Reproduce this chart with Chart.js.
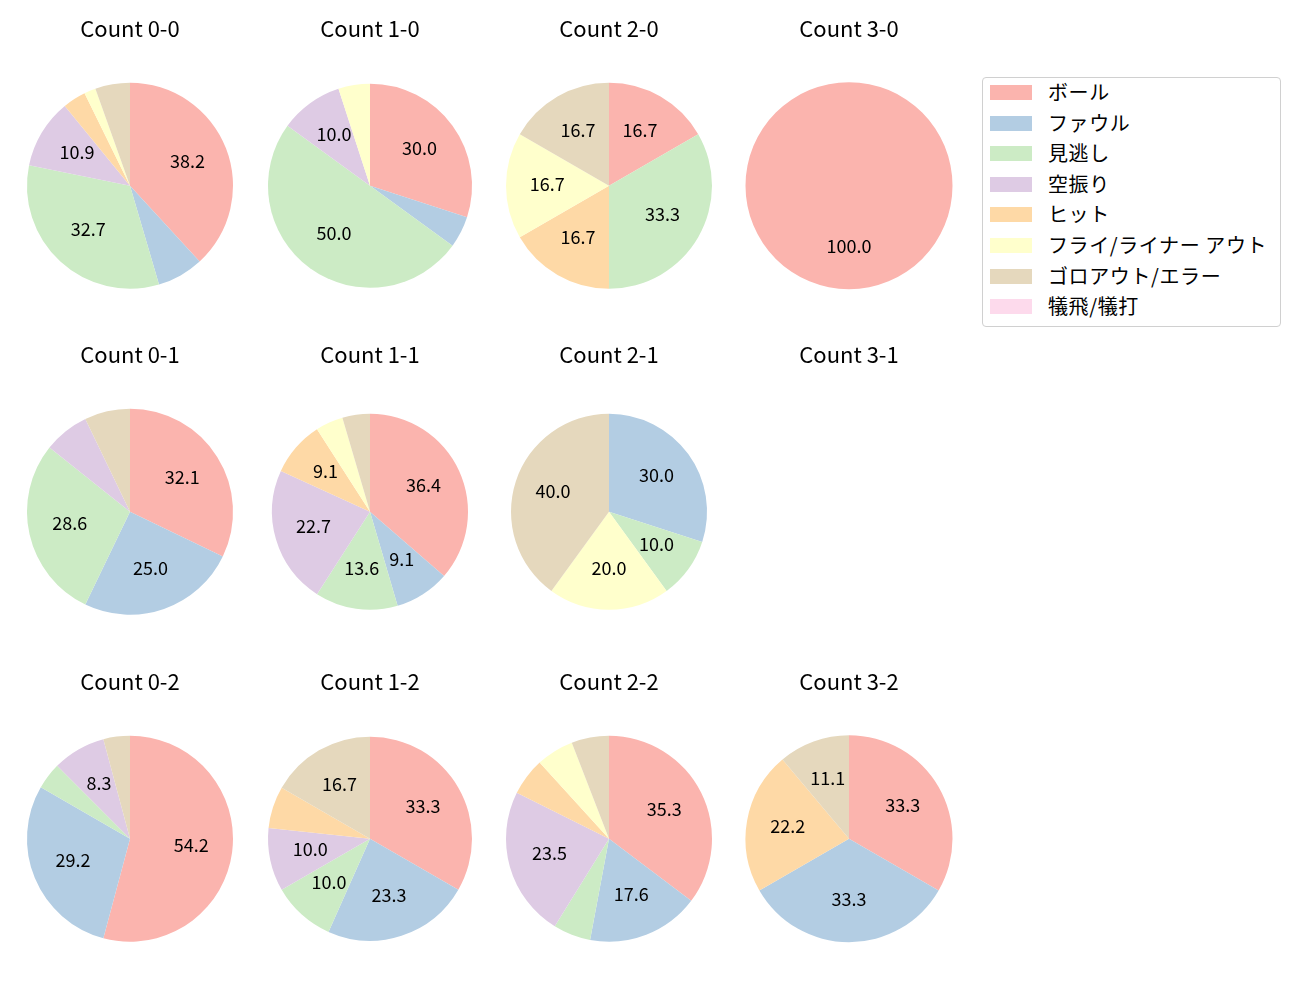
<!DOCTYPE html>
<html><head><meta charset="utf-8">
<script src="https://cdn.jsdelivr.net/npm/chart.js@4/dist/chart.umd.min.js"></script>
<style>
body{margin:0;background:#fff;width:1300px;height:1000px;position:relative;overflow:hidden;font-family:"Noto Sans CJK JP",sans-serif;}
canvas{position:absolute}
#legend{position:absolute;left:982px;top:77px;width:299px;height:250px;border:1px solid #d0d0d0;border-radius:4px;box-sizing:border-box;}
.lrow{position:absolute;left:0;height:30px;width:100%}
.sw{position:absolute;left:7px;width:42px;height:15px;}
.lt{position:absolute;left:65px;font-size:20px;line-height:30px;color:#000;white-space:nowrap;letter-spacing:0.6px}
</style></head><body>
<div id="legend"></div>
<script>
const categories = ['ボール','ファウル','見逃し','空振り','ヒット','フライ/ライナー アウト','ゴロアウト/エラー','犠飛/犠打'];
const colors = ['#fbb4ae','#b3cde3','#ccebc5','#decbe4','#fed9a6','#ffffcc','#e5d8bd','#fddaec'];
// counts per category (same order as categories)
const count00 = [21,4,18,6,2,1,3,0];
const count10 = [6,1,10,2,0,1,0,0];
const count20 = [1,0,2,0,1,1,1,0];
const count30 = [1,0,0,0,0,0,0,0];
const count01 = [9,7,8,2,0,0,2,0];
const count11 = [8,2,3,5,2,1,1,0];
const count21 = [0,3,1,0,0,2,4,0];
const count31 = [0,0,0,0,0,0,0,0];
const count02 = [13,7,1,2,0,0,1,0];
const count12 = [10,7,3,3,2,0,5,0];
const count22 = [6,3,1,4,1,1,1,0];
const count32 = [3,3,0,0,2,0,1,0];
const panelTitles = ['Count 0-0','Count 1-0','Count 2-0','Count 3-0','Count 0-1','Count 1-1','Count 2-1','Count 3-1','Count 0-2','Count 1-2','Count 2-2','Count 3-2'];
const panelData = [count00,count10,count20,count30,count01,count11,count21,count31,count02,count12,count22,count32];

// layout
const colCenters = [129.5, 369.5, 609, 849];
const rowCenters = [185.5, 512, 838.5];
const radii = [103,102,103,103.5, 103,98,98,103, 103,102,103,103.5];

const pctLabels = {
  id:'pctLabels',
  afterDatasetsDraw(chart){
    const ctx = chart.ctx;
    const meta = chart.getDatasetMeta(0);
    const data = chart.data.datasets[0].data;
    const total = data.reduce((a,b)=>a+b,0);
    if(!total) return;
    ctx.save();
    ctx.font = '18px "Noto Sans CJK JP"';
    ctx.fillStyle = '#000';
    ctx.textAlign = 'center';
    ctx.textBaseline = 'middle';
    meta.data.forEach((arc,i)=>{
      const pct = data[i]/total*100;
      if(pct < 8) return;
      const p = arc.getProps(['x','y','startAngle','endAngle','outerRadius'], true);
      const mid = (p.startAngle+p.endAngle)/2;
      const r = p.outerRadius*0.6;
      ctx.fillText(pct.toFixed(1), p.x+Math.cos(mid)*r, p.y+Math.sin(mid)*r - 2);
    });
    ctx.restore();
  }
};

const W = 240, H = 295;
panelData.forEach((d,k)=>{
  const col = k%4, row = Math.floor(k/4);
  const cv = document.createElement('canvas');
  cv.width = W; cv.height = H;
  cv.style.left = (colCenters[col]-W/2)+'px';
  cv.style.top = (rowCenters[row]-170.7)+'px';
  document.body.appendChild(cv);
  new Chart(cv, {
    type:'pie',
    data:{labels:categories, datasets:[{data:d, backgroundColor:colors, borderWidth:0}]},
    options:{
      responsive:false, animation:false,
      radius: radii[k],
      layout:{padding:0},
      plugins:{
        legend:{display:false},
        tooltip:{enabled:false},
        title:{display:true, text:panelTitles[k], color:'#000',
          font:{family:'"Noto Sans CJK JP"', size:22, weight:'normal', lineHeight:1.2},
          padding:{top:0,bottom:20}}
      }
    },
    plugins:[pctLabels]
  });
});

const lg = document.getElementById('legend');
categories.forEach((c,i)=>{
  const r = document.createElement('div');
  r.className='lrow';
  r.style.top = (-1 + i*30.6)+'px';
  r.innerHTML = '<div class="sw" style="top:8px;background:'+colors[i]+'"></div><div class="lt">'+c+'</div>';
  lg.appendChild(r);
});
</script>
</body></html>
